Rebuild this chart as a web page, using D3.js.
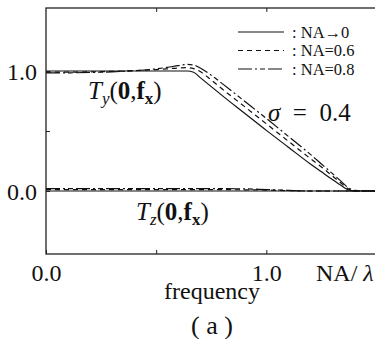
<!DOCTYPE html>
<html>
<head>
<meta charset="utf-8">
<script src="https://cdn.jsdelivr.net/npm/d3@7"></script>
<style>
  body { margin: 0; background: #fff; }
  svg { display: block; }
  text { font-family: "Liberation Serif", "DejaVu Serif", serif; fill: #111; }
</style>
</head>
<body>
<svg id="chart" width="375" height="339"></svg>
<script>
// sample frequencies (NA/lambda units) and values
const freq  = [0, 0.1, 0.2, 0.3, 0.4, 0.5, 0.55, 0.6, 0.64, 0.67, 0.7, 0.75, 0.8, 0.9, 1.0, 1.1, 1.2, 1.25, 1.3, 1.34, 1.37, 1.4, 1.5];
const tyNA0  = [1, 1, 1, 1, 1, 1, 1, 1, 1, 0.99, 0.945, 0.87, 0.795, 0.65, 0.505, 0.365, 0.225, 0.16, 0.095, 0.045, 0.01, 0, 0];
const tyNA06 = [0.99, 0.99, 0.993, 0.997, 1.003, 1.012, 1.018, 1.025, 1.028, 1.02, 0.995, 0.925, 0.85, 0.705, 0.56, 0.415, 0.27, 0.2, 0.125, 0.065, 0.02, 0, 0];
const tyNA08 = [0.985, 0.985, 0.988, 0.993, 1.003, 1.018, 1.03, 1.045, 1.055, 1.05, 1.025, 0.965, 0.895, 0.75, 0.605, 0.455, 0.305, 0.225, 0.145, 0.08, 0.03, 0.005, 0];
const tzNA0  = [0, 0, 0, 0, 0, 0, 0, 0, 0, 0, 0, 0, 0, 0, 0, 0, 0, 0, 0, 0, 0, 0, 0];
const tzNA06 = [0.012, 0.012, 0.012, 0.012, 0.012, 0.012, 0.012, 0.012, 0.012, 0.012, 0.012, 0.011, 0.011, 0.01, 0.008, 0.003, 0, 0, 0, 0, 0, 0, 0];
const tzNA08 = [0.02, 0.02, 0.02, 0.02, 0.02, 0.02, 0.02, 0.02, 0.02, 0.02, 0.02, 0.019, 0.019, 0.018, 0.012, 0.005, 0, 0, 0, 0, 0, 0, 0];

const legendLabels = [": NA\u21920", ": NA=0.6", ": NA=0.8"];
const dashes = [null, "5,4", "14,3,2,3,5,3"];
const yTicks = [0, 0.5, 1];
const xTicks = [0, 0.5, 1];

const svg = d3.select('#chart');
const x = d3.scaleLinear().domain([0, 1.5]).range([46, 376.5]);
const y = d3.scaleLinear().domain([-0.525, 1.525]).range([254, 8]);

const line = vals => d3.line()
    .x((d, i) => x(freq[i]))
    .y(d => y(d))
    .curve(d3.curveMonotoneX)(vals);

const series = [
    { vals: tyNA0, dash: dashes[0] },
    { vals: tyNA06, dash: dashes[1] },
    { vals: tyNA08, dash: dashes[2] },
    { vals: tzNA0, dash: dashes[0] },
    { vals: tzNA06, dash: dashes[1] },
    { vals: tzNA08, dash: dashes[2] }
];

svg.append('g')
    .selectAll('path')
    .data(series)
    .join('path')
    .attr('d', d => line(d.vals))
    .attr('fill', 'none')
    .attr('stroke', '#111')
    .attr('stroke-width', 1.2)
    .attr('stroke-dasharray', d => d.dash);

// frame
svg.append('rect')
    .attr('x', x(0)).attr('y', y(1.525))
    .attr('width', x(1.5) - x(0)).attr('height', y(-0.525) - y(1.525))
    .attr('fill', 'none').attr('stroke', '#222').attr('stroke-width', 1.3);

const fmt = d => d === 0.5 ? '' : d3.format('.1f')(d);

svg.append('g')
    .attr('transform', `translate(${x(0)},0)`)
    .call(d3.axisLeft(y).tickValues(yTicks).tickSize(-4).tickPadding(9).tickFormat(fmt))
    .call(g => g.select('.domain').remove())
    .call(g => g.selectAll('text').attr('font-size', 24).attr('font-family', null).attr('dy', '0.36em'));

svg.append('g')
    .attr('transform', `translate(0,${y(-0.525)})`)
    .call(d3.axisBottom(x).tickValues(xTicks).tickSize(-4).tickPadding(10).tickFormat(fmt))
    .call(g => g.select('.domain').remove())
    .call(g => g.selectAll('text').attr('font-size', 24).attr('font-family', null));

svg.append('g')
    .attr('transform', `translate(0,${y(1.525)})`)
    .call(d3.axisTop(x).tickValues([0.5, 1]).tickSize(-4).tickFormat(''))
    .call(g => g.select('.domain').remove());

svg.selectAll('.tick line').attr('stroke', '#222');

// legend
const legend = svg.append('g')
    .selectAll('g')
    .data(legendLabels)
    .join('g')
    .attr('transform', (d, i) => `translate(238,${32 + i * 18.5})`);

legend.append('line')
    .attr('x1', 0).attr('x2', 46)
    .attr('stroke', '#111').attr('stroke-width', 1.2)
    .attr('stroke-dasharray', (d, i) => dashes[i]);

legend.append('text')
    .attr('x', 54).attr('dy', '0.35em')
    .attr('font-size', 16.5)
    .text(d => d);

// curve labels
function addT(xp, yp, sub) {
    const t = svg.append('text').attr('x', xp).attr('y', yp).attr('font-size', 25);
    t.append('tspan').attr('font-style', 'italic').text('T');
    t.append('tspan').attr('font-style', 'italic').attr('font-size', 17).attr('dy', 5).text(sub);
    t.append('tspan').attr('dy', -5).text('(');
    t.append('tspan').attr('font-weight', 'bold').text('0');
    t.append('tspan').text(',');
    t.append('tspan').attr('font-weight', 'bold').text('f');
    t.append('tspan').attr('font-weight', 'bold').attr('font-size', 17).attr('dy', 5).text('x');
    t.append('tspan').attr('dy', -5).text(')');
}
addT(88, 99, 'y');
addT(136, 220, 'z');

svg.append('text')
    .attr('x', 268).attr('y', 121)
    .attr('font-size', 25)
    .call(t => t.append('tspan').attr('font-style', 'italic').text('\u03c3'))
    .call(t => t.append('tspan').text('\u2002=\u20020.4'));

svg.append('text')
    .attr('x', 316).attr('y', 281)
    .attr('font-size', 24)
    .call(t => t.append('tspan').text('NA/ '))
    .call(t => t.append('tspan').attr('font-style', 'italic').text('\u03bb'));

svg.append('text')
    .attr('x', 212).attr('y', 299)
    .attr('text-anchor', 'middle')
    .attr('font-size', 24)
    .text('frequency');

svg.append('text')
    .attr('x', 212).attr('y', 334)
    .attr('text-anchor', 'middle')
    .attr('font-size', 26)
    .text('( a )');
</script>
</body>
</html>
